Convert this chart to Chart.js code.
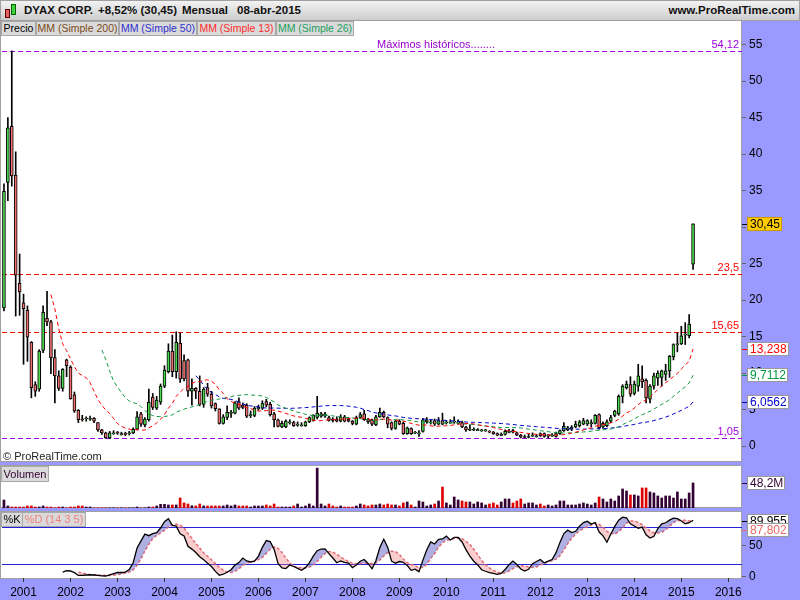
<!DOCTYPE html>
<html>
<head>
<meta charset="utf-8">
<script src="https://cdn.jsdelivr.net/npm/chart.js@4.4.1/dist/chart.umd.min.js"></script>
<style>
body { margin: 0; width: 800px; height: 600px; background: #9999ff; position: relative; overflow: hidden; font-family: Arial, "Liberation Sans", sans-serif; }
.pane { position: absolute; left: 0; width: 740px; background: #fff; border: 1px solid #a0a0a0; }
canvas { position: absolute; left: 0; }
.top { position: absolute; left: 0; top: 0; width: 798px; height: 19px; background: linear-gradient(#f2f2f2, #cdcdcd); border: 1px solid #a0a0a0; font-weight: bold; font-size: 11.5px; }
.top span { position: absolute; top: 3px; color: #111; }
.tab { position: absolute; height: 13px; line-height: 13px; font-size: 10.5px; text-align: center; background: #dadada; border: 1px solid #a8a8a8; white-space: nowrap; overflow: hidden; z-index: 3; }
.note { position: absolute; font-size: 11px; color: #222; z-index: 3; }
</style>
</head>
<body>
<div class="top">
  <div style="position:absolute;left:4px;top:8px;width:3px;height:7px;background:#e06060;border:1px solid #600"></div>
  <div style="position:absolute;left:10px;top:3px;width:3px;height:9px;background:#40d040;border:1px solid #060"></div>
  <span style="left:23px">DYAX CORP.</span>
  <span style="left:97px">+8,52% (30,45)</span>
  <span style="left:181px">Mensual</span>
  <span style="left:236px">08-abr-2015</span>
  <span style="right:4px">www.ProRealTime.com</span>
</div>

<div class="pane" style="top:20px;height:440px"></div>
<div class="pane" style="top:465px;height:41px"></div>
<div class="pane" style="top:511px;height:66px"></div>

<canvas id="mainChart" width="800" height="441" style="top:21px"></canvas>
<canvas id="volChart" width="800" height="42" style="top:466px"></canvas>
<canvas id="stoChart" width="800" height="88" style="top:512px"></canvas>

<div class="tab" style="left:1px;top:21px;width:33px">Precio</div>
<div class="tab" style="left:36px;top:21px;width:81px;color:#7a4a1a">MM (Simple 200)</div>
<div class="tab" style="left:119px;top:21px;width:76px;color:#3030d0">MM (Simple 50)</div>
<div class="tab" style="left:197px;top:21px;width:77px;color:#ff2a2a">MM (Simple 13)</div>
<div class="tab" style="left:276px;top:21px;width:76px;color:#20a060">MM (Simple 26)</div>
<div class="note" style="left:3px;top:450px">© ProRealTime.com</div>
<div class="tab" style="left:1px;top:466px;width:46px;height:14px;line-height:14px;font-size:11px;color:#330033">Volumen</div>
<div class="tab" style="left:1px;top:512px;width:20px;font-size:11px">%K</div>
<div class="tab" style="left:22px;top:512px;width:62px;font-size:11px;color:#f08080">%D (14 3 5)</div>

<script>
// monthly candles, first month Aug 2000
const startYear = 2000;
const startMonth = 8;
const monthCount = 189;

const opens = [
  18.9, 36.1, 43.8, 37.1, 22.3, 19.6, 18.6, 14.2, 8.4, 7.8,
  13.1, 17.5, 17.0, 12.1, 9.6, 7.9, 11.8, 10.8, 7.0, 4.9,
  3.7, 3.7, 3.8, 3.8, 3.2, 2.2, 1.8, 1.1, 1.8, 1.8,
  1.7, 1.7, 1.65, 1.8, 2.3, 4.4, 2.9, 3.6, 6.7, 5.2,
  6.0, 8.2, 10.2, 13.0, 10.2, 14.1, 11.7, 11.8, 7.5, 7.9,
  7.5, 5.7, 8.0, 7.1, 5.8, 5.1, 3.1, 3.9, 4.6, 4.5,
  6.1, 5.6, 5.6, 4.3, 4.2, 5.1, 5.2, 6.1, 5.7, 4.4,
  3.6, 2.6, 2.6, 3.3, 3.2, 3.0, 2.9, 2.8, 3.3, 3.5,
  3.9, 4.1, 4.1, 3.9, 3.7, 3.7, 3.4, 4.0, 3.7, 3.4,
  3.0, 3.9, 4.4, 3.6, 3.6, 2.9, 4.0, 4.6, 3.9, 3.2,
  2.4, 3.4, 3.1, 1.7, 2.4, 1.9, 1.8, 2.0, 3.3, 3.3,
  3.5, 3.0, 3.5, 3.3, 3.3, 3.4, 3.3, 3.2, 2.6, 2.3,
  2.3, 2.25, 2.2, 2.2, 2.0, 1.9, 1.7, 1.6, 1.6, 2.0,
  2.1, 1.8, 1.5, 1.3, 1.3, 1.5, 1.4, 1.7, 1.7, 1.5,
  1.5, 1.3, 1.7, 2.1, 2.2, 2.3, 2.6, 2.8, 3.0, 3.0,
  3.2, 3.1, 4.3, 2.6, 2.8, 3.4, 4.2, 4.4, 6.8, 8.0,
  8.4, 7.2, 8.2, 9.2, 9.0, 6.4, 8.2, 9.3, 9.4, 9.8,
  10.3, 12.2, 14.0, 14.0, 15.2, 15.1, 24.9
];
const highs = [
  35.9, 45.0, 54.12, 40.3, 26.3, 20.8, 19.2, 14.3, 8.8, 13.2,
  19.2, 21.2, 17.2, 13.2, 10.3, 10.6, 11.9, 11.0, 7.4, 5.0,
  4.2, 4.0, 4.1, 3.9, 3.2, 2.3, 1.9, 2.0, 2.1, 2.0,
  1.9, 1.9, 2.0, 2.5, 4.7, 4.6, 3.9, 7.8, 7.2, 6.8,
  8.5, 11.0, 14.0, 15.2, 15.65, 15.5, 12.5, 11.9, 9.2, 8.0,
  9.6, 8.0, 8.6, 7.5, 5.9, 5.1, 4.3, 5.5, 4.9, 6.1,
  6.6, 5.9, 5.8, 4.8, 5.4, 5.6, 6.2, 6.4, 6.0, 4.6,
  3.7, 3.4, 3.6, 3.6, 3.4, 3.3, 3.2, 3.4, 4.0, 4.3,
  6.8, 4.6, 4.6, 4.1, 3.9, 4.0, 4.3, 4.2, 3.9, 3.5,
  4.1, 4.6, 4.9, 3.8, 3.7, 4.2, 5.2, 4.8, 4.0, 3.3,
  3.5, 3.6, 3.3, 2.6, 2.5, 2.0, 2.1, 3.8, 3.9, 3.6,
  3.7, 3.9, 4.5, 3.5, 3.6, 4.0, 3.6, 3.4, 2.7, 2.9,
  2.5, 2.4, 2.3, 2.3, 2.1, 2.0, 1.8, 1.8, 2.2, 2.3,
  2.3, 1.9, 1.6, 1.5, 1.6, 1.8, 1.6, 1.8, 1.8, 1.6,
  1.7, 1.9, 2.2, 3.2, 2.7, 2.8, 3.4, 3.5, 3.8, 3.6,
  3.6, 4.3, 4.4, 3.3, 3.6, 4.2, 4.9, 7.0, 8.4, 8.9,
  9.5, 8.9, 11.2, 11.0, 9.2, 8.4, 10.0, 10.3, 10.4, 11.2,
  12.4, 14.0, 15.5, 16.4, 16.9, 18.0, 30.45
];
const lows = [
  18.5, 33.6, 35.6, 17.8, 17.9, 11.2, 11.6, 6.6, 6.8, 7.5,
  12.8, 16.5, 9.9, 5.9, 7.6, 7.5, 9.5, 6.4, 4.6, 3.2,
  3.4, 3.4, 3.5, 3.2, 2.0, 1.6, 1.05, 1.05, 1.6, 1.6,
  1.5, 1.4, 1.5, 1.7, 2.2, 2.7, 2.6, 3.4, 5.0, 5.0,
  5.7, 8.0, 10.0, 9.5, 9.3, 8.7, 8.9, 6.8, 5.6, 6.5,
  5.5, 5.3, 6.8, 5.2, 4.8, 3.0, 3.0, 3.6, 3.9, 4.4,
  5.0, 5.1, 3.9, 3.9, 4.0, 4.9, 5.0, 5.4, 4.1, 2.6,
  2.6, 2.5, 2.5, 3.0, 2.7, 2.7, 2.7, 2.7, 3.2, 3.4,
  3.7, 3.9, 3.9, 3.4, 3.3, 3.3, 3.3, 3.3, 3.3, 2.9,
  2.9, 3.8, 3.5, 3.1, 2.8, 2.8, 3.9, 3.9, 2.5, 2.2,
  2.3, 2.9, 1.6, 1.6, 1.6, 1.7, 1.3, 1.9, 3.1, 3.0,
  2.8, 2.9, 2.9, 3.0, 3.1, 3.1, 3.0, 2.5, 2.0, 2.1,
  2.1, 2.1, 2.0, 2.0, 1.8, 1.6, 1.4, 1.4, 1.5, 1.8,
  1.8, 1.4, 1.1, 1.1, 1.1, 1.3, 1.2, 1.3, 1.2, 1.1,
  1.3, 1.2, 1.6, 2.0, 2.1, 2.1, 2.5, 2.6, 2.9, 2.8,
  2.6, 3.0, 2.3, 2.4, 2.6, 3.2, 4.0, 4.2, 5.9, 7.8,
  6.8, 7.0, 7.5, 8.0, 5.9, 5.9, 7.8, 8.3, 8.2, 9.0,
  9.4, 11.8, 12.9, 13.9, 13.9, 14.8, 24.2
];
const closes = [
  34.9, 43.6, 37.0, 23.4, 21.1, 18.8, 14.9, 8.0, 7.5, 13.0,
  18.3, 17.0, 12.1, 9.6, 7.9, 10.5, 11.0, 6.5, 4.8, 3.6,
  3.6, 3.8, 3.8, 3.4, 2.2, 1.8, 1.1, 1.8, 1.8, 1.75,
  1.7, 1.6, 1.8, 2.3, 4.0, 3.0, 3.7, 6.0, 5.3, 6.3,
  8.2, 10.4, 13.0, 10.2, 14.2, 9.2, 9.2, 7.5, 7.9, 7.5,
  5.7, 7.8, 7.1, 5.5, 5.1, 3.1, 4.0, 4.6, 4.6, 5.9,
  5.2, 5.3, 4.1, 4.3, 5.2, 5.3, 5.8, 5.6, 4.3, 3.6,
  2.7, 3.1, 3.4, 3.3, 2.8, 3.0, 2.9, 3.3, 3.9, 4.2,
  4.5, 4.4, 4.4, 3.5, 3.5, 3.4, 4.0, 3.4, 3.4, 3.1,
  3.9, 4.3, 3.6, 3.3, 3.0, 4.0, 4.6, 4.0, 3.0, 2.4,
  3.4, 3.0, 1.7, 2.5, 1.7, 1.9, 1.8, 3.6, 3.6, 3.3,
  3.0, 3.5, 3.0, 3.3, 3.3, 3.4, 3.3, 2.6, 2.2, 2.3,
  2.3, 2.25, 2.2, 2.2, 1.9, 1.7, 1.5, 1.6, 2.0, 2.0,
  1.9, 1.5, 1.2, 1.3, 1.3, 1.5, 1.4, 1.4, 1.3, 1.5,
  1.5, 1.7, 2.1, 2.7, 2.5, 2.6, 3.0, 3.3, 3.5, 3.5,
  3.2, 4.2, 2.5, 3.1, 3.3, 3.9, 4.8, 6.8, 8.2, 8.5,
  7.1, 8.5, 9.6, 8.8, 6.6, 8.2, 9.6, 10.0, 10.3, 10.3,
  12.3, 13.9, 14.0, 15.1, 15.3, 16.7, 30.45
];
// volume in millions
const volumes = [
  15.4, 3.9, 1.9, 1.9, 1.9, 1.9, 3.9, 3.9, 1.9, 1.9,
  3.9, 1.9, 1.9, 0.4, 1.9, 1.9, 0.4, 1.9, 1.9, 3.9,
  3.9, 1.9, 1.9, 0.4, 0.4, 0.4, 0.4, 0.4, 0.4, 0.4,
  0.4, 0.4, 0.4, 0.4, 1.9, 0.4, 0.4, 1.9, 1.9, 3.9,
  7.1, 7.1, 5.8, 5.8, 5.8, 19.3, 9.7, 7.7, 4.5, 3.9,
  7.7, 3.9, 3.9, 3.9, 3.9, 3.9, 3.9, 5.8, 3.9, 5.8,
  3.9, 3.9, 3.9, 1.9, 3.9, 3.9, 3.9, 5.8, 3.9, 7.7,
  1.9, 1.9, 1.9, 1.9, 3.9, 7.7, 1.9, 3.9, 7.7, 3.9,
  77.0, 7.7, 3.9, 7.7, 3.9, 1.9, 3.9, 1.9, 1.9, 1.9,
  3.9, 7.7, 5.8, 3.9, 5.8, 5.8, 7.7, 5.8, 7.7, 5.8,
  5.8, 3.9, 9.7, 11.6, 5.8, 1.9, 13.5, 11.6, 3.9, 5.8,
  7.7, 13.5, 40.5, 9.7, 5.8, 21.2, 15.4, 13.5, 11.6, 11.6,
  7.7, 11.6, 9.7, 5.8, 7.7, 9.7, 5.8, 11.6, 17.4, 17.4,
  9.7, 13.5, 17.4, 7.7, 9.7, 9.7, 5.8, 7.7, 3.9, 5.8,
  3.9, 5.8, 13.5, 13.5, 5.8, 5.8, 5.8, 7.7, 9.7, 7.7,
  5.8, 9.7, 21.2, 17.4, 11.6, 17.4, 13.5, 23.2, 36.7, 32.8,
  25.1, 25.1, 23.2, 38.6, 38.6, 30.9, 29.0, 23.2, 19.3, 23.2,
  23.2, 19.3, 30.9, 17.4, 17.4, 29.0, 48.2
];

const priceTicks = [0, 5, 10, 15, 20, 25, 30, 35, 40, 45, 50, 55];
const stochTicks = [0, 50];
const stochLevels = [20, 80];
const levelValues = [54.12, 23.5, 15.65, 1.05];
const levelTexts = ['54,12', '23,5', '15,65', '1,05'];
const levelColors = ['#a000e0', '#ff0000', '#ff0000', '#a000e0'];
const lastValues = [30.45, 13.238, 9.7112, 6.0562];
const lastTexts = ['30,45', '13,238', '9,7112', '6,0562'];
const lastColors = ['#000000', '#ff0000', '#009944', '#0000cc'];
const lastFills = ['#ffcc00', '#ffffff', '#ffffff', '#ffffff'];
const stochLastValues = [89.955, 87.802];
const stochLastTexts = ['89,955', '87,802'];
const volLastValue = 48.2;
const volLastText = '48,2M';

const months = [];
for (let k = 0; k < monthCount; k++) {
  const m = startMonth - 1 + k;
  months.push((startYear + Math.floor(m / 12)) + '-' + String(m % 12 + 1).padStart(2, '0'));
}

function sma(src, n) {
  return src.map((v, i) => {
    if (i < n - 1) return null;
    let s = 0;
    for (let k = i - n + 1; k <= i; k++) {
      if (src[k] === null) return null;
      s += src[k];
    }
    return s / n;
  });
}

// stochastic 14 3 5
const rawK = closes.map((c, i) => {
  if (i < 13) return null;
  const hh = Math.max(...highs.slice(i - 13, i + 1));
  const ll = Math.min(...lows.slice(i - 13, i + 1));
  return 100 * (c - ll) / (hh - ll);
});
const pctK = sma(rawK, 3);
const pctD = sma(pctK, 5);

const wicks = lows.map((l, i) => [l, highs[i]]);
const bodies = opens.map((o, i) => [o, closes[i]]);
const candleColors = opens.map((o, i) => closes[i] >= o ? '#4cd84c' : '#f07070');
const volColors = opens.map((o, i) => closes[i] >= o ? '#330033' : '#dd0000');

const FONT = 'Arial, "Liberation Sans", sans-serif';
Chart.defaults.font.family = FONT;
Chart.defaults.animation = false;

function valueBox(ctx, x, yc, text, color, fill, stroke) {
  ctx.font = '12px ' + FONT;
  const w = Math.round(ctx.measureText(text).width) + 5;
  const top = Math.round(yc) - 7;
  ctx.fillStyle = color;
  ctx.fillRect(x, Math.round(yc), 5, 1);
  ctx.fillStyle = fill;
  ctx.fillRect(x + 5, top, w, 14);
  ctx.strokeStyle = stroke;
  ctx.lineWidth = 1;
  ctx.strokeRect(x + 5.5, top + 0.5, w - 1, 13);
  ctx.fillStyle = color;
  ctx.textAlign = 'left';
  ctx.textBaseline = 'middle';
  ctx.fillText(text, x + 8, top + 7.5);
}

function rightAxis(min, max, ticks) {
  return {
    position: 'right', min: min, max: max,
    afterBuildTicks: s => { s.ticks = ticks.map(v => ({ value: v })); },
    afterFit: s => { s.width = 58; s.paddingTop = 0; s.paddingBottom = 0; },
    grid: { drawOnChartArea: false, tickLength: 4, color: '#666' },
    border: { display: false },
    ticks: { color: '#000', font: { size: 12 }, padding: 3, callback: v => String(v) }
  };
}

const mainOverlay = {
  id: 'mainOverlay',
  beforeDatasetsDraw(chart) {
    const { ctx, chartArea: a, scales: { y } } = chart;
    ctx.save();
    ctx.lineWidth = 1;
    ctx.setLineDash([5, 3]);
    levelValues.forEach((v, k) => {
      const py = Math.round(y.getPixelForValue(v)) + 0.5;
      ctx.strokeStyle = levelColors[k];
      ctx.beginPath();
      ctx.moveTo(a.left, py);
      ctx.lineTo(a.right, py);
      ctx.stroke();
    });
    ctx.restore();
  },
  afterDraw(chart) {
    const { ctx, chartArea: a, scales: { y } } = chart;
    ctx.save();
    ctx.font = '11px ' + FONT;
    ctx.textBaseline = 'bottom';
    levelValues.forEach((v, k) => {
      const py = Math.round(y.getPixelForValue(v));
      ctx.fillStyle = levelColors[k];
      ctx.textAlign = 'right';
      ctx.fillText(levelTexts[k], a.right - 3, py - 1);
    });
    ctx.textAlign = 'left';
    ctx.fillStyle = '#9900cc';
    ctx.fillText('Máximos históricos........', 377, Math.round(y.getPixelForValue(levelValues[0])) - 1);
    lastValues.forEach((v, k) => {
      valueBox(ctx, a.right, y.getPixelForValue(v), lastTexts[k], lastColors[k], lastFills[k], k === 0 ? '#d09a00' : '#9a9a9a');
    });
    ctx.restore();
  }
};

new Chart(document.getElementById('mainChart'), {
  type: 'bar',
  data: {
    labels: months,
    datasets: [
      { type: 'line', data: sma(closes, 13), borderColor: '#ff0000', borderWidth: 1, borderDash: [4, 3], pointRadius: 0, tension: 0, order: 0 },
      { type: 'line', data: sma(closes, 26), borderColor: '#119944', borderWidth: 1, borderDash: [4, 3], pointRadius: 0, tension: 0, order: 0 },
      { type: 'line', data: sma(closes, 50), borderColor: '#0000cc', borderWidth: 1, borderDash: [4, 3], pointRadius: 0, tension: 0, order: 0 },
      { type: 'line', data: sma(closes, 200), borderColor: '#8b5a2b', borderWidth: 1, borderDash: [4, 3], pointRadius: 0, tension: 0, order: 0 },
      { data: bodies, backgroundColor: candleColors, borderColor: '#000', borderWidth: 1, borderSkipped: false, barThickness: 3, minBarLength: 1, grouped: false, order: 1 },
      { data: wicks, backgroundColor: '#000', barThickness: 1, grouped: false, order: 2 }
    ]
  },
  options: {
    responsive: false,
    layout: { padding: { left: 2, right: 0, top: 0, bottom: 0 } },
    plugins: { legend: { display: false }, tooltip: { enabled: false } },
    scales: {
      x: { type: 'category', offset: true, display: false },
      y: rightAxis(-2.19, 58.22, priceTicks)
    }
  },
  plugins: [mainOverlay]
});

const volOverlay = {
  id: 'volOverlay',
  afterDraw(chart) {
    const { ctx, chartArea: a, scales: { y } } = chart;
    ctx.save();
    valueBox(ctx, a.right, y.getPixelForValue(volLastValue), volLastText, '#330033', '#ffffff', '#9a9a9a');
    ctx.restore();
  }
};

new Chart(document.getElementById('volChart'), {
  type: 'bar',
  data: {
    labels: months,
    datasets: [{ data: volumes, backgroundColor: volColors, barThickness: 2 }]
  },
  options: {
    responsive: false,
    layout: { padding: { left: 2, right: 58, top: 0, bottom: 0 } },
    plugins: { legend: { display: false }, tooltip: { enabled: false } },
    scales: {
      x: { type: 'category', offset: true, display: false },
      y: { min: 0, max: 81, display: false }
    }
  },
  plugins: [volOverlay]
});

const stochOverlay = {
  id: 'stochOverlay',
  beforeDatasetsDraw(chart) {
    const { ctx, chartArea: a, scales: { y } } = chart;
    ctx.save();
    ctx.strokeStyle = '#2222dd';
    ctx.lineWidth = 1;
    stochLevels.forEach(v => {
      const py = Math.round(y.getPixelForValue(v)) + 0.5;
      ctx.beginPath();
      ctx.moveTo(a.left, py);
      ctx.lineTo(a.right, py);
      ctx.stroke();
    });
    ctx.restore();
  },
  afterDraw(chart) {
    const { ctx, chartArea: a, scales: { y } } = chart;
    ctx.save();
    const y0 = y.getPixelForValue(stochLastValues[0]);
    valueBox(ctx, a.right, y0, stochLastTexts[0], '#000000', '#ffffff', '#9a9a9a');
    const y1 = Math.max(y.getPixelForValue(stochLastValues[1]), y0 + 9);
    valueBox(ctx, a.right, y1, stochLastTexts[1], '#ee6666', '#ffffff', '#9a9a9a');
    ctx.restore();
  }
};

new Chart(document.getElementById('stoChart'), {
  type: 'line',
  data: {
    labels: months,
    datasets: [
      { data: pctK, borderColor: '#000', borderWidth: 1.3, pointRadius: 0, tension: 0,
        fill: { target: '+1', above: 'rgba(110,110,200,0.55)', below: 'rgba(240,130,130,0.4)' } },
      { data: pctD, borderColor: '#ee6666', borderWidth: 1.5, borderDash: [3, 2], pointRadius: 0, tension: 0, fill: false }
    ]
  },
  options: {
    responsive: false,
    layout: { padding: { left: 2, right: 0, top: 0, bottom: 0 } },
    plugins: { legend: { display: false }, tooltip: { enabled: false } },
    scales: {
      x: {
        type: 'category', offset: true, position: 'bottom',
        afterBuildTicks: s => { s.ticks = s.ticks.filter(t => months[t.value].endsWith('-01')); },
        afterFit: s => { s.height = 22; s.paddingLeft = 0; s.paddingRight = 0; },
        grid: { drawOnChartArea: false, offset: false, tickLength: 4, color: '#333' },
        border: { display: false },
        ticks: { autoSkip: false, maxRotation: 0, color: '#000', font: { size: 12 }, padding: 3,
          callback: v => months[v].slice(0, 4) }
      },
      y: rightAxis(-2.3, 104.9, stochTicks)
    }
  },
  plugins: [stochOverlay]
});
</script>
</body>
</html>
